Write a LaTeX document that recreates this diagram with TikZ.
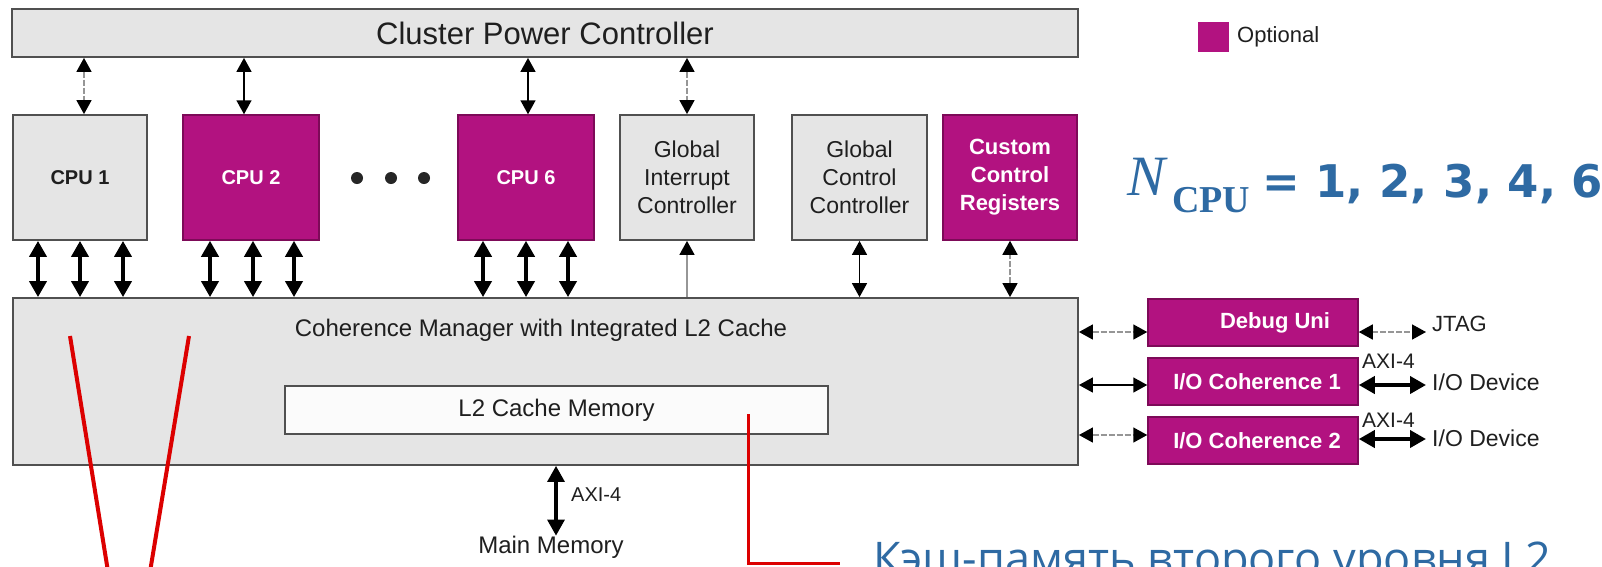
\documentclass[tikz,border=0pt]{standalone}
\usepackage{fontspec}
\setmainfont{Liberation Sans}
\newfontfamily\serifface{Liberation Serif}
\newfontfamily\wideface{DejaVu Sans}
\newfontfamily\ruface{Open Sans}
\usetikzlibrary{arrows.meta}
\definecolor{optmag}{RGB}{178,18,128}
\definecolor{optedge}{RGB}{125,10,88}
\definecolor{boxgray}{RGB}{229,229,229}
\definecolor{boxedge}{RGB}{80,80,80}
\definecolor{linkgray}{RGB}{150,150,150}
\definecolor{noteblue}{RGB}{46,106,163}
\definecolor{markred}{RGB}{220,0,0}
\newcommand{\pxsize}[1]{\fontsize{#1}{#1}\selectfont}
\tikzset{
  hd/.tip={Triangle[length=14pt,width=15pt,color=black]},
  bighd/.tip={Triangle[length=16pt,width=17pt,color=black]},
  blk/.style={draw=boxedge, line width=1.8pt, fill=boxgray, inner sep=0pt,
    align=center, text=black!88},
  opt/.style={draw=optedge, line width=1.5pt, fill=optmag, inner sep=0pt,
    align=center, text=white},
  link/.style={line width=1.5pt, black, arrows={hd-hd}},
  glink/.style={line width=1.5pt, linkgray, dash pattern=on 6pt off 2pt, arrows={hd-hd}},
  bus/.style={line width=3.8pt, black, arrows={bighd-bighd}},
  plain/.style={inner sep=0pt, text=black!88},
  redmark/.style={draw=markred, line width=4pt},
}
\begin{document}
\begin{tikzpicture}[x=1pt,y=-1pt]
\useasboundingbox (0,0) rectangle (1602,566);
\clip (0,0) rectangle (1602,566);
\fill[white] (0,0) rectangle (1602,566);

% power controller
\node[blk, minimum width=1066pt, minimum height=48pt, font=\pxsize{31}] (cpc) at (545,33) {Cluster Power Controller};

% cores and global blocks
\node[blk, minimum width=134pt, minimum height=125pt, font=\bfseries\pxsize{20}] (cpu1) at (80,177.5) {CPU 1};
\node[opt, minimum width=136pt, minimum height=125pt, font=\bfseries\pxsize{20}] (cpu2) at (251,177.5) {CPU 2};
\node[opt, minimum width=136pt, minimum height=125pt, font=\bfseries\pxsize{20}] (cpu6) at (526,177.5) {CPU 6};
\node[blk, minimum width=134pt, minimum height=125pt, font=\fontsize{23}{28}\selectfont] (gic) at (687,177.5) {Global\\Interrupt\\Controller};
\node[blk, minimum width=135pt, minimum height=125pt, font=\fontsize{23}{28}\selectfont] (gcc) at (859.5,177.5) {Global\\Control\\Controller};
\node[opt, minimum width=134pt, minimum height=125pt, font=\bfseries\fontsize{22}{28}\selectfont] (ccr) at (1010,177.5) {Custom\\Control\\Registers};

% ellipsis between cores
\fill[black!85] (357,178) circle (6) (391,178) circle (6) (424,178) circle (6);

% coherence manager
\node[blk, minimum width=1065pt, minimum height=167pt] (cm) at (545.5,381.5) {};
\node[plain, font=\pxsize{24}] (cmtitle) at (541,330) {Coherence Manager with Integrated L2 Cache};
\node[draw=boxedge, line width=1.5pt, fill=white!97!gray, inner sep=0pt, minimum width=543pt, minimum height=48pt, font=\pxsize{24}, text=black!88] (l2) at (556.5,410) {L2 Cache Memory};

% optional peripherals on the right
\node[opt, minimum width=210pt, minimum height=47pt, font=\bfseries\pxsize{22}] (dbg) at (1253,322.5) {\hspace*{44pt}Debug Uni};
\node[opt, minimum width=210pt, minimum height=47pt, font=\bfseries\pxsize{22}] (ioc1) at (1253,381.5) {\hspace*{8pt}I/O Coherence 1};
\node[opt, minimum width=210pt, minimum height=47pt, font=\bfseries\pxsize{22}] (ioc2) at (1253,440.5) {\hspace*{8pt}I/O Coherence 2};

% external labels
\node[plain, anchor=west, font=\pxsize{22}] (jtag) at (1432,324) {JTAG};
\node[plain, anchor=west, font=\pxsize{23}] (dev1) at (1432,382) {I/O Device};
\node[plain, anchor=west, font=\pxsize{23}] (dev2) at (1432,438) {I/O Device};
\node[plain, anchor=west, font=\pxsize{21}] (axi1) at (1362,361) {AXI-4};
\node[plain, anchor=west, font=\pxsize{21}] (axi2) at (1362,420) {AXI-4};
\node[plain, anchor=west, font=\pxsize{20}] (axim) at (571,495) {AXI-4};
\node[plain, font=\pxsize{24}] (mainmem) at (551,547) {Main Memory};

% legend
\fill[optmag] (1198,22) rectangle (1229,52);
\node[plain, anchor=west, font=\pxsize{22}] (legend) at (1237,37) {Optional};

% core count
\node[anchor=base west, inner sep=0pt, text=noteblue, font=\serifface\itshape\pxsize{57}] (nsym) at (1127,195) {N};
\node[anchor=base west, inner sep=0pt, text=noteblue, font=\serifface\bfseries\pxsize{38}] (nsub) at (1172,212) {CPU};
\node[anchor=base west, inner sep=0pt, text=noteblue, font=\wideface\bfseries\pxsize{45}] (nvals) at (1262,197) {= 1, 2, 3, 4, 6};

% links to the power controller
\draw[glink] (cpc.south -| 84,0) -- (cpu1.north -| 84,0);
\draw[link] (cpc.south -| 244,0) -- (cpu2.north -| 244,0);
\draw[link] (cpc.south -| 528,0) -- (cpu6.north -| 528,0);
\draw[glink] (cpc.south -| gic.north) -- (gic.north);

% core buses into the coherence manager
\foreach \bx/\core in {38/cpu1,80/cpu1,123/cpu1,210/cpu2,253/cpu2,294/cpu2,483/cpu6,526/cpu6,568/cpu6}
  \draw[bus] (\core.south -| \bx,0) -- (cm.north -| \bx,0);

% global blocks to the coherence manager
\draw[line width=1.5pt, linkgray, arrows={-hd}] (cm.north -| gic.south) -- (gic.south);
\draw[link] (gcc.south |- cm.north) -- (gcc.south);
\draw[glink] (ccr.south |- cm.north) -- (ccr.south);

% main memory port
\draw[bus, line width=3.2pt] (cm.south -| 556,0) -- (mainmem.north -| 556,0);

% right-hand ports
\draw[glink] (cm.east |- 0,332) -- (dbg.west |- 0,332);
\draw[link] (cm.east |- 0,385) -- (ioc1.west |- 0,385);
\draw[glink] (cm.east |- 0,435) -- (ioc2.west |- 0,435);
\draw[glink, shorten >=6pt] (dbg.east |- 0,332) -- (jtag.west |- 0,332);
\draw[bus, shorten >=6pt] (ioc1.east |- 0,385) -- (dev1.west |- 0,385);
\draw[bus, shorten >=6pt] (ioc2.east |- 0,439) -- (dev2.west |- 0,439);

% red annotation marks
\coordinate (vla) at (70,336);
\coordinate (vlb) at (111,590);
\coordinate (vra) at (189,336);
\coordinate (vrb) at (147,590);
\draw[redmark] (vla) -- (vlb);
\draw[redmark] (vra) -- (vrb);
\node[anchor=base west, inner sep=0pt, text=noteblue, font=\ruface\pxsize{45}] (l2note) at (873,574) {Кэш-память второго уровня L2};
\coordinate (l2pin) at (748,414);
\coordinate (l2end) at (840,563);
\draw[draw=markred, line width=3pt] (l2pin) |- (l2end);
\end{tikzpicture}
\end{document}
